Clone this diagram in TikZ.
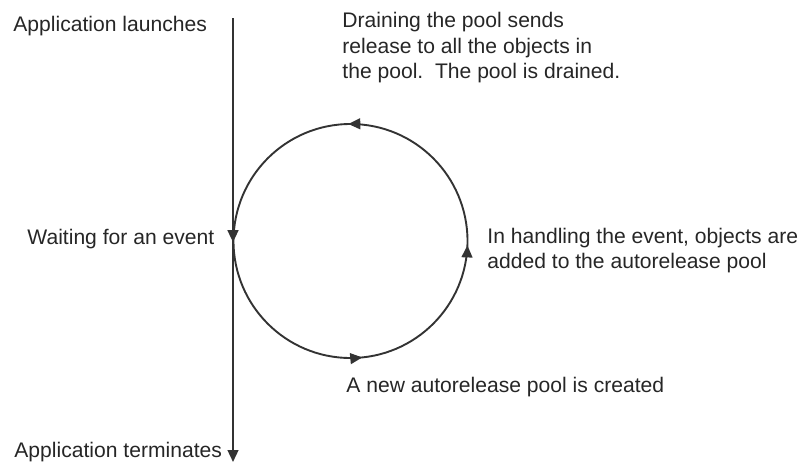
\documentclass[tikz,border=0pt]{standalone}
\usepackage{fontspec}
\setmainfont{Liberation Sans}
\usetikzlibrary{arrows.meta, decorations.markings}

\begin{document}
\begin{tikzpicture}[
    x=0.016667cm, y=0.016667cm,
    lab/.style={anchor=west, align=left, inner sep=0pt, font=\fontsize{10}{12.1}\selectfont, text=black!85},
    evtip/.tip={Triangle[length=2mm, width=1.8mm]},
    evline/.style={line width=0.9pt, draw=black!80},
    midarr/.style={postaction={decorate}, decoration={markings, mark=at position #1 with {\arrow{evtip}}}}]
    \useasboundingbox (0,0) rectangle (799,464);
    % time line
    \coordinate (start) at (233,446);
    \coordinate (stop) at (233,2);
    \node[lab] (launch) at (13,438) {Application launches};
    \node[lab] (wait) at (27,225) {Waiting for an event};
    \node[lab] (term) at (14,12) {Application terminates};
    \draw[evline, -{evtip}, midarr=0.505] (start) -- (stop);
    % event loop
    \coordinate (loop) at (350.5,223);
    \draw[evline, postaction={decorate}, decoration={markings,
        mark=at position 0.253 with {\arrow{evtip}},
        mark=at position 0.766 with {\arrow{evtip}},
        mark=at position 0.994 with {\arrow{evtip}}}]
        (loop) circle[radius=117];
    \node[lab] (drain) at (342,416) {Draining the pool sends\\release to all the objects in\\the pool.\ \ The pool is drained.};
    \node[lab] (handle) at (487,213.5) {In handling the event, objects are\\added to the autorelease pool};
    \node[lab] (create) at (346,77) {A new autorelease pool is created};
\end{tikzpicture}
\end{document}
